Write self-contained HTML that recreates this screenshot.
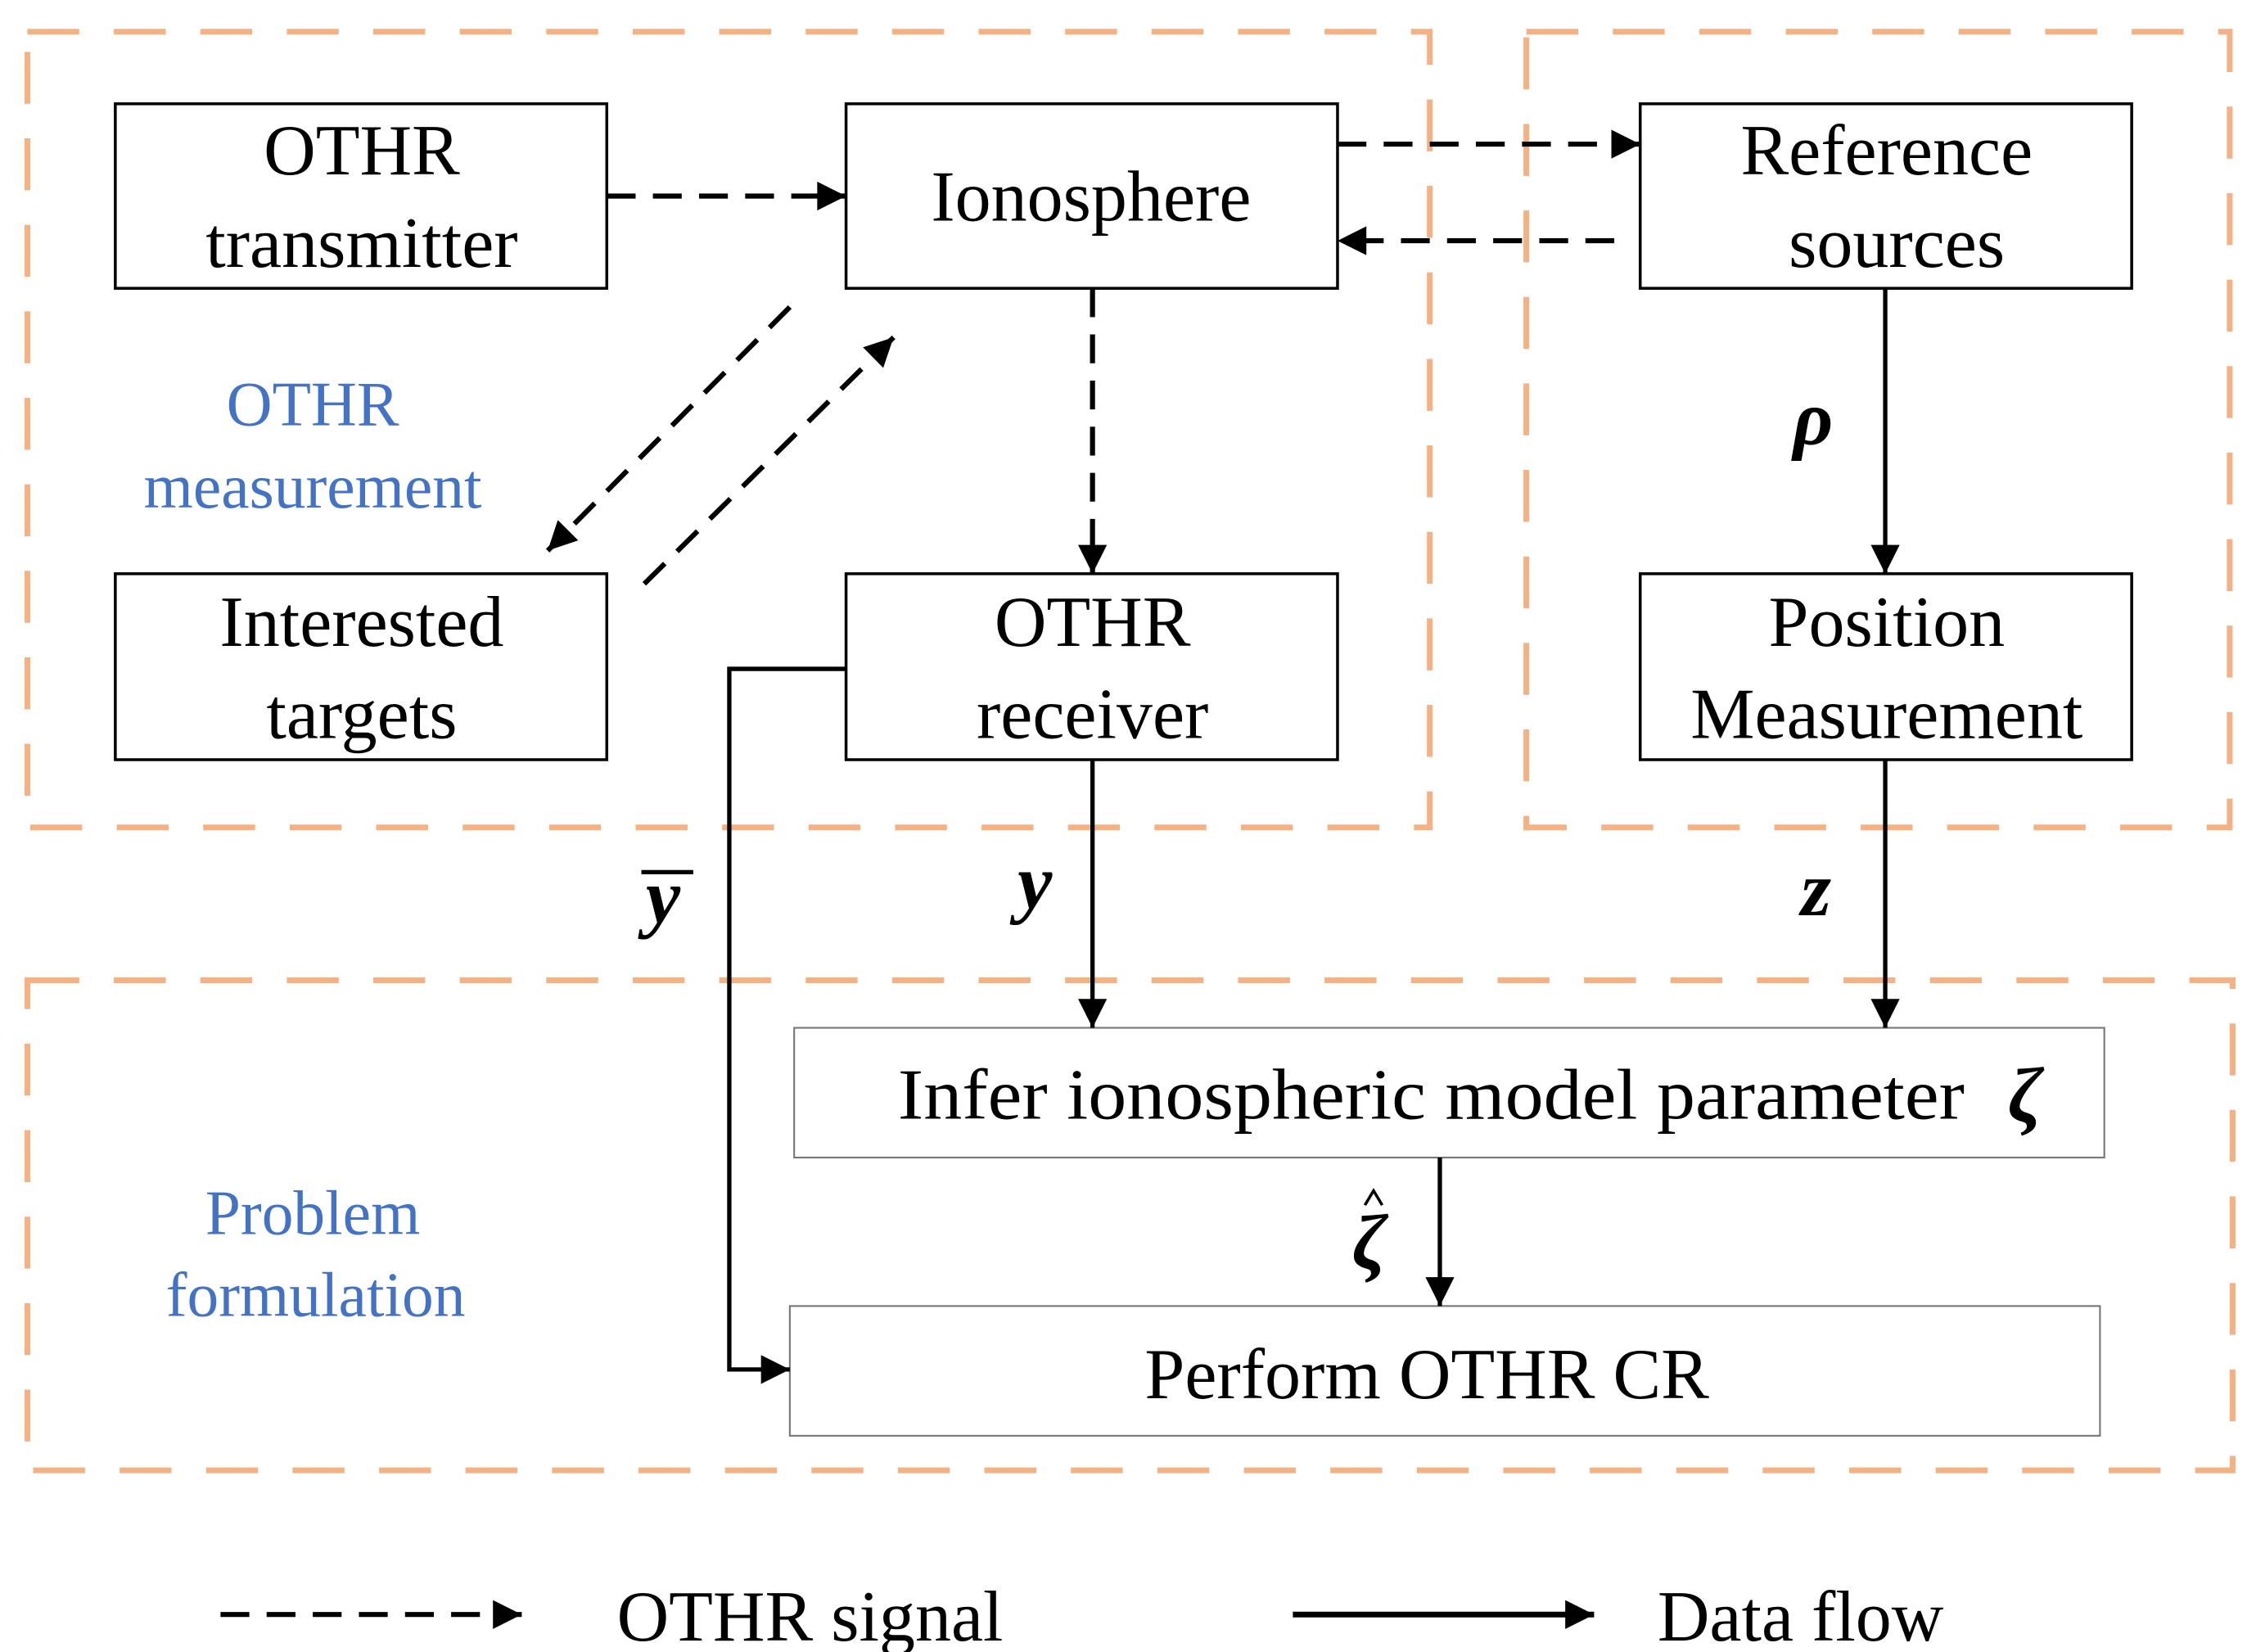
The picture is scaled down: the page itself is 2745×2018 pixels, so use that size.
<!DOCTYPE html>
<html><head><meta charset="utf-8"><style>html,body{margin:0;padding:0;background:#fff}svg{display:block}</style></head><body>
<svg width="2745" height="2018" viewBox="0 0 1559 1146" preserveAspectRatio="none" xmlns="http://www.w3.org/2000/svg" font-family="Liberation Serif, serif">
<defs>
<marker id="b" viewBox="0 0 10 10" refX="10" refY="5" markerWidth="22" markerHeight="20" markerUnits="userSpaceOnUse" orient="auto"><path d="M0,0 L10,5 L0,10 z" fill="#000"/></marker>
</defs>
<g fill="none" stroke="#F4B183" stroke-width="4" stroke-dasharray="36,24">
<rect x="19" y="22" width="973" height="552"/>
<rect x="1059" y="22" width="488" height="552"/>
<rect x="19" y="680" width="1530" height="340"/>
</g>
<g fill="#fff" stroke="#000" stroke-width="2">
<rect x="80" y="72" width="341" height="128"/>
<rect x="587" y="72" width="341" height="128"/>
<rect x="1138" y="72" width="341" height="128"/>
<rect x="80" y="398" width="341" height="129"/>
<rect x="587" y="398" width="341" height="129"/>
<rect x="1138" y="398" width="341" height="129"/>
</g>
<g fill="#fff" stroke="#777" stroke-width="1.2">
<rect x="551" y="713" width="909" height="90"/>
<rect x="548" y="906" width="909" height="90"/>
</g>
<g stroke="#000" stroke-width="3.5" fill="none" stroke-dasharray="20,12" marker-end="url(#b)">
<line x1="421" y1="136" x2="587" y2="136"/>
<line x1="928" y1="100" x2="1138" y2="100"/>
<line x1="1120" y1="167" x2="928" y2="167"/>
<line x1="758" y1="200" x2="758" y2="398"/>
<line x1="548" y1="213" x2="380" y2="382"/>
<line x1="447" y1="405" x2="620" y2="234"/>
<line x1="153" y1="1120" x2="362" y2="1120"/>
</g>
<g stroke="#000" stroke-width="3" fill="none" marker-end="url(#b)">
<line x1="1308" y1="200" x2="1308" y2="398"/>
<line x1="758" y1="527" x2="758" y2="713"/>
<line x1="1308" y1="527" x2="1308" y2="713"/>
<line x1="999" y1="803" x2="999" y2="906"/>
<polyline points="587,464 506,464 506,950 548,950"/>
<line x1="897" y1="1120" x2="1106" y2="1120" stroke-width="4"/>
</g>
<g font-size="50" text-anchor="middle" fill="#000">
<text x="251" y="121">OTHR</text><text x="251" y="185">transmitter</text>
<text x="757" y="153">Ionosphere</text>
<text x="1309" y="121">Reference</text><text x="1316" y="185">sources</text>
<text x="251" y="448">Interested</text><text x="251" y="512">targets</text>
<text x="758" y="448">OTHR</text><text x="758" y="512">receiver</text>
<text x="1309" y="448">Position</text><text x="1309" y="512">Measurement</text>
<text x="993" y="776" textLength="740" lengthAdjust="spacingAndGlyphs">Infer ionospheric model parameter</text>
<text x="990" y="970">Perform OTHR CR</text>
</g>
<text x="1405" y="778" font-size="54" font-style="italic" font-weight="bold" text-anchor="middle">ζ</text>
<g font-size="44" text-anchor="middle" fill="#4472C4">
<text x="217" y="295">OTHR</text><text x="217" y="352">measurement</text>
<text x="217" y="856">Problem</text><text x="219" y="913">formulation</text>
</g>
<g font-size="54" font-style="italic" font-weight="bold" text-anchor="middle">
<text x="1258" y="308">ρ</text>
<text x="460" y="640">y</text>
<line x1="445" y1="605" x2="481" y2="605" stroke="#000" stroke-width="3"/>
<text x="718" y="630">y</text>
<text x="1260" y="635">z</text>
</g>
<text x="950" y="880" font-size="54" font-style="italic" font-weight="bold" text-anchor="middle">ζ</text>
<path d="M947,836 L953,826 L959,836" stroke="#000" stroke-width="2" fill="none"/>
<text x="428" y="1138" font-size="50">OTHR signal</text>
<text x="1150" y="1138" font-size="50">Data flow</text>
</svg>
</body></html>
